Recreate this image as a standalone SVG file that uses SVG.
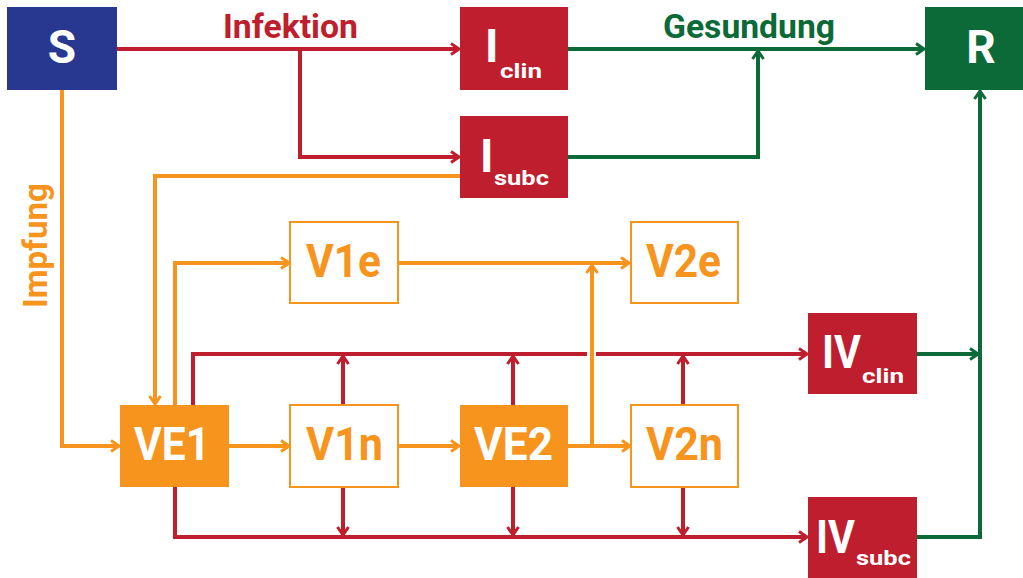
<svg xmlns="http://www.w3.org/2000/svg" width="1023" height="578" viewBox="0 0 1023 578">
<style>
.red{fill:#BE1E2D}.grn{fill:#0B6A38}.blu{fill:#283891}.org{fill:#F7941D}
.out{fill:#fff;stroke:#F7941D;stroke-width:2}
text{font-family:Roboto,"Liberation Sans",sans-serif;font-weight:700}
.big{font-size:46px;fill:#fff}
.bigo{font-size:46px;fill:#F7941D}
.sub{font-size:21px;fill:#fff}
.lbl{font-size:34px}
.lr{stroke:#BE1E2D;stroke-width:4;fill:none}
.lg{stroke:#0B6A38;stroke-width:4;fill:none}
.lo{stroke:#F7941D;stroke-width:4;fill:none}
</style>
<defs>
<marker id="ar" viewBox="0 0 14 14" refX="12" refY="7" markerWidth="14" markerHeight="14" markerUnits="userSpaceOnUse" orient="auto"><path d="M4,1.5 L12,7 L4,12.5" fill="none" stroke="#BE1E2D" stroke-width="3"/></marker>
<marker id="ag" viewBox="0 0 14 14" refX="12" refY="7" markerWidth="14" markerHeight="14" markerUnits="userSpaceOnUse" orient="auto"><path d="M4,1.5 L12,7 L4,12.5" fill="none" stroke="#0B6A38" stroke-width="3"/></marker>
<marker id="ao" viewBox="0 0 14 14" refX="12" refY="7" markerWidth="14" markerHeight="14" markerUnits="userSpaceOnUse" orient="auto"><path d="M4,1.5 L12,7 L4,12.5" fill="none" stroke="#F7941D" stroke-width="3"/></marker>
</defs>
<g id="connectors">
<path class="lr" d="M117,49 H459" marker-end="url(#ar)"/>
<path class="lr" d="M300,49 V157 H459" marker-end="url(#ar)"/>
<path class="lr" d="M193,405 V354 H587"/>
<path class="lr" d="M596,354 H807" marker-end="url(#ar)"/>
<path class="lr" d="M343,405 V356" marker-end="url(#ar)"/>
<path class="lr" d="M513,405 V356" marker-end="url(#ar)"/>
<path class="lr" d="M683,405 V356" marker-end="url(#ar)"/>
<path class="lr" d="M175,487 V537 H807" marker-end="url(#ar)"/>
<path class="lr" d="M343,487 V535" marker-end="url(#ar)"/>
<path class="lr" d="M513,487 V535" marker-end="url(#ar)"/>
<path class="lr" d="M683,487 V535" marker-end="url(#ar)"/>
<path class="lg" d="M568,49 H924" marker-end="url(#ag)"/>
<path class="lg" d="M568,157 H758 V51" marker-end="url(#ag)"/>
<path class="lg" d="M917,354 H978" marker-end="url(#ag)"/>
<path class="lg" d="M917,537 H980 V91" marker-end="url(#ag)"/>
<path class="lo" d="M62,90 V446 H119" marker-end="url(#ao)"/>
<path class="lo" d="M460,176 H155 V404" marker-end="url(#ao)"/>
<path class="lo" d="M175,405 V263 H289" marker-end="url(#ao)"/>
<path class="lo" d="M398,263 H629" marker-end="url(#ao)"/>
<path class="lo" d="M229,446 H289" marker-end="url(#ao)"/>
<path class="lo" d="M398,446 H459" marker-end="url(#ao)"/>
<path class="lo" d="M568,446 H630" marker-end="url(#ao)"/>
<path class="lo" d="M592,446 V265" marker-end="url(#ao)"/>
<text class="lbl" x="223" y="38" fill="#BE1E2D" textLength="135" lengthAdjust="spacingAndGlyphs">Infektion</text>
<text class="lbl" x="663" y="38" fill="#0B6A38" textLength="172" lengthAdjust="spacingAndGlyphs">Gesundung</text>
<text class="lbl" transform="translate(47,308) rotate(-90)" fill="#F7941D" textLength="125" lengthAdjust="spacingAndGlyphs">Impfung</text>
</g>
<g id="S"><rect class="blu" x="7" y="7" width="110" height="83"/><text class="big" x="62" y="63" text-anchor="middle">S</text></g>
<g id="R"><rect class="grn" x="925" y="7" width="110" height="83"/><text class="big" x="981" y="63" text-anchor="middle">R</text></g>
<g id="Iclin"><rect class="red" x="460" y="7" width="108" height="83"/><text class="big" x="485" y="62">I</text><text class="sub" x="500" y="78" textLength="42" lengthAdjust="spacingAndGlyphs">clin</text></g>
<g id="Isubc"><rect class="red" x="460" y="116" width="108" height="82"/><text class="big" x="480" y="172">I</text><text class="sub" x="494" y="185" textLength="55" lengthAdjust="spacingAndGlyphs">subc</text></g>
<g id="V1e"><rect class="out" x="290" y="222" width="108" height="81"/><text class="bigo" x="306" y="277" textLength="75" lengthAdjust="spacingAndGlyphs">V1e</text></g>
<g id="V2e"><rect class="out" x="631" y="222" width="107" height="81"/><text class="bigo" x="646" y="277" textLength="75" lengthAdjust="spacingAndGlyphs">V2e</text></g>
<g id="IVclin"><rect class="red" x="808" y="313" width="109" height="81"/><text class="big" x="822" y="368" textLength="39" lengthAdjust="spacingAndGlyphs">IV</text><text class="sub" x="862" y="383" textLength="42" lengthAdjust="spacingAndGlyphs">clin</text></g>
<g id="VE1"><rect class="org" x="120" y="405" width="109" height="82"/><text class="big" x="134" y="460" textLength="76" lengthAdjust="spacingAndGlyphs">VE1</text></g>
<g id="V1n"><rect class="out" x="290" y="405" width="108" height="82"/><text class="bigo" x="306" y="460" textLength="77" lengthAdjust="spacingAndGlyphs">V1n</text></g>
<g id="VE2"><rect class="org" x="460" y="405" width="108" height="82"/><text class="big" x="474" y="460" textLength="79" lengthAdjust="spacingAndGlyphs">VE2</text></g>
<g id="V2n"><rect class="out" x="631" y="405" width="107" height="82"/><text class="bigo" x="646" y="460" textLength="77" lengthAdjust="spacingAndGlyphs">V2n</text></g>
<g id="IVsubc"><rect class="red" x="808" y="497" width="109" height="81"/><text class="big" x="816" y="553" textLength="39" lengthAdjust="spacingAndGlyphs">IV</text><text class="sub" x="856" y="565" textLength="55" lengthAdjust="spacingAndGlyphs">subc</text></g>
</svg>
